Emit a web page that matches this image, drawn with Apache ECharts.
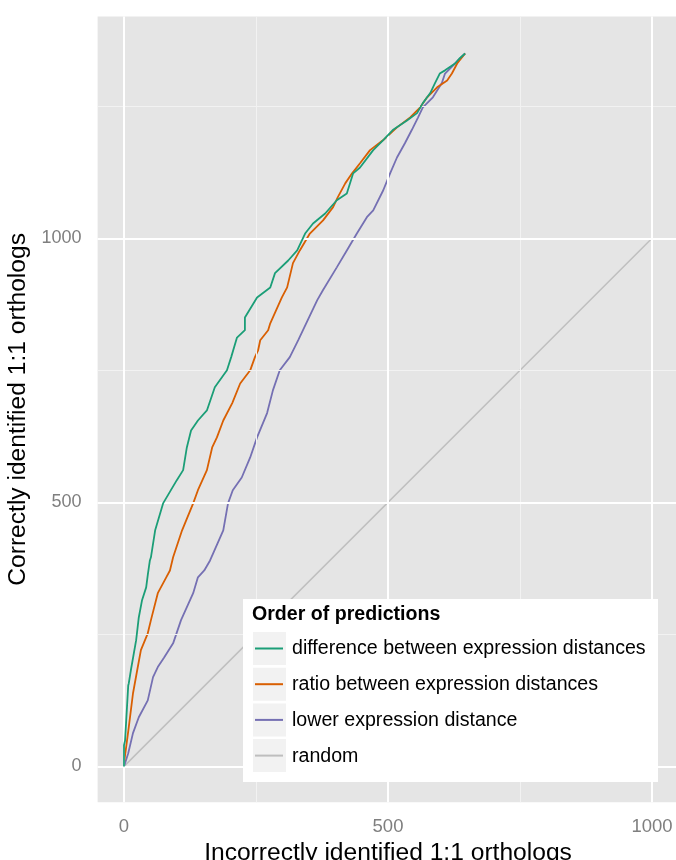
<!DOCTYPE html>
<html>
<head>
<meta charset="utf-8">
<script src="https://cdn.jsdelivr.net/npm/echarts@6/dist/echarts.min.js"></script>
<style>
html,body{margin:0;padding:0;background:#fff;}
#chart{width:676px;height:860px;}
</style>
</head>
<body>
<div id="chart"></div>
<script>
// ---- data ----
const seriesNames = ['difference between expression distances','ratio between expression distances','lower expression distance','random'];
const xTicks = [0, 500, 1000];
const yTicks = [0, 500, 1000];
const xMinor = [250, 750];
const yMinor = [250, 750, 1250];

const diffX = [0,0,2,8,9,13,23,28,34,42,45,49,51,59,74,100,112,119,127,140,157,172,195,203,214,229,229,252,277,286,311,328,343,358,381,403,422,434,447,472,491,509,536,555,566,580,589,598,608,627,636,646];
const diffY = [0,40,49,153,157,182,239,282,314,339,362,390,396,447,498,542,561,604,636,655,674,718,750,775,812,826,850,888,907,934,958,977,1009,1028,1047,1072,1085,1123,1134,1167,1186,1205,1223,1237,1256,1275,1294,1312,1318,1331,1341,1350];

const ratioX = [0,0,4,9,17,25,32,45,51,64,80,87,93,110,131,140,157,167,176,188,205,220,239,248,254,258,273,277,299,309,320,333,352,377,396,405,419,432,447,466,491,517,542,561,574,593,612,621,631,646];
const ratioY = [0,6,36,74,138,182,220,252,277,328,358,371,396,447,498,523,561,604,623,655,688,725,750,775,788,807,826,839,888,907,953,977,1009,1034,1059,1078,1104,1123,1142,1167,1186,1210,1229,1248,1267,1286,1299,1312,1331,1350];

const lowerX = [0,2,8,17,28,45,55,64,76,93,108,131,140,152,163,188,197,206,223,239,252,271,282,295,314,330,339,366,377,403,422,441,460,472,491,504,517,532,545,557,566,585,602,608,627,646];
const lowerY = [0,6,25,63,93,125,169,188,206,233,277,328,358,371,390,447,498,523,547,585,623,669,712,750,775,807,826,883,902,945,977,1009,1040,1053,1091,1123,1153,1180,1205,1229,1248,1267,1294,1312,1331,1350];

const randomX = [0, 1000];
const randomY = [0, 1000];

const colors = ['#1B9E77', '#D95F02', '#7570B3', '#BEBEBE'];

function pairs(xs, ys) { return xs.map((x, i) => [x, ys[i]]); }

const chart = echarts.init(document.getElementById('chart'), null, {renderer: 'canvas'});

const tickColor = '#7F7F7F';
const font = 'Liberation Sans, Arial, Helvetica, sans-serif';

function lineSeries(name, data, color, width, z) {
  return {
    name: name, type: 'line', data: data, showSymbol: false, symbol: 'none',
    lineStyle: {color: color, width: width}, itemStyle: {color: color},
    z: z, silent: true, animation: false
  };
}

const gridLines = [];
xMinor.forEach(v => gridLines.push({xAxis: v, lineStyle: {color: '#F2F2F2', width: 1, type: 'solid'}}));
yMinor.forEach(v => gridLines.push({yAxis: v, lineStyle: {color: '#F2F2F2', width: 1, type: 'solid'}}));
xTicks.forEach(v => gridLines.push({xAxis: v, lineStyle: {color: '#FFFFFF', width: 2, type: 'solid'}}));
yTicks.forEach(v => gridLines.push({yAxis: v, lineStyle: {color: '#FFFFFF', width: 2, type: 'solid'}}));

// legend layout
const lgX = 243, lgY = 599, lgW = 415, lgH = 183;
const legendEls = [
  {type: 'rect', shape: {x: lgX, y: lgY, width: lgW, height: lgH}, style: {fill: '#FFFFFF'}, z: 100},
  {type: 'text', x: 252, y: 615, style: {text: 'Order of predictions', font: 'bold 19.6px ' + font, fill: '#000', textVerticalAlign: 'middle'}, z: 101}
];
for (let i = 0; i < 4; i++) {
  const top = 632 + i * 35.7;
  legendEls.push({type: 'rect', shape: {x: 253, y: top, width: 33, height: 33}, style: {fill: '#F2F2F2'}, z: 101});
  legendEls.push({type: 'line', shape: {x1: 255, y1: top + 16.5, x2: 283, y2: top + 16.5}, style: {stroke: colors[i], lineWidth: 2}, z: 102});
  legendEls.push({type: 'text', x: 292, y: top + 17, style: {text: seriesNames[i], font: '19.6px ' + font, fill: '#000', textVerticalAlign: 'middle'}, z: 102});
}

const option = {
  animation: false,
  backgroundColor: '#FFFFFF',
  grid: {left: 97.6, right: -2.4, top: 16.5, bottom: 57.7, show: true, backgroundColor: '#E5E5E5', borderWidth: 0, containLabel: false, outerBoundsMode: 'none'},
  xAxis: {
    type: 'value', min: -50, max: 1050,
    name: 'Incorrectly identified 1:1 orthologs', nameLocation: 'middle', nameGap: 34,
    nameTextStyle: {fontSize: 24.6, color: '#000', fontFamily: font},
    axisLine: {show: false},
    axisTick: {show: true, customValues: xTicks, length: 8, lineStyle: {color: tickColor, width: 1.5}},
    axisLabel: {show: true, customValues: xTicks, formatter: v => String(v), fontSize: 18.5, color: tickColor, fontFamily: font, margin: 15},
    splitLine: {show: false}, minorSplitLine: {show: false}
  },
  yAxis: {
    type: 'value', min: -68, max: 1420,
    name: 'Correctly identified 1:1 orthologs', nameLocation: 'middle', nameGap: 62,
    nameTextStyle: {fontSize: 24.6, color: '#000', fontFamily: font},
    axisLine: {show: false},
    axisTick: {show: true, customValues: yTicks, length: 8, lineStyle: {color: tickColor, width: 1.5}},
    axisLabel: {show: true, customValues: yTicks, formatter: v => String(v), fontSize: 18, color: tickColor, fontFamily: font, margin: 16},
    splitLine: {show: false}
  },
  series: [
    {
      name: 'grid', type: 'line', data: [], z: 0, silent: true,
      markLine: {silent: true, symbol: 'none', label: {show: false}, animation: false, data: gridLines}
    },
    lineSeries(seriesNames[3], pairs(randomX, randomY), colors[3], 1.5, 2),
    lineSeries(seriesNames[2], pairs(lowerX, lowerY), colors[2], 1.8, 3),
    lineSeries(seriesNames[1], pairs(ratioX, ratioY), colors[1], 1.8, 4),
    lineSeries(seriesNames[0], pairs(diffX, diffY), colors[0], 1.8, 5)
  ],
  graphic: legendEls
};
chart.setOption(option);
</script>
</body>
</html>
